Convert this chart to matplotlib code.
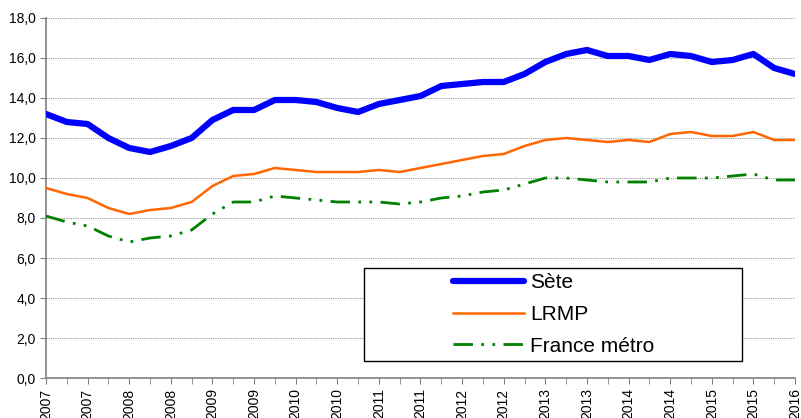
import matplotlib.pyplot as plt
from matplotlib.patches import Rectangle
from matplotlib.ticker import FuncFormatter

plt.rcParams['font.family'] = ['Liberation Sans', 'DejaVu Sans']

# trimestres de 2007 T1 à 2016 T1
annees = [2007, 2007, 2008, 2008, 2009, 2009, 2010, 2010, 2011, 2011,
          2012, 2012, 2013, 2013, 2014, 2014, 2015, 2015, 2016]

sete = [13.2, 12.8, 12.7, 12.0, 11.5, 11.3, 11.6, 12.0, 12.9, 13.4,
        13.4, 13.9, 13.9, 13.8, 13.5, 13.3, 13.7, 13.9, 14.1, 14.6,
        14.7, 14.8, 14.8, 15.2, 15.8, 16.2, 16.4, 16.1, 16.1, 15.9,
        16.2, 16.1, 15.8, 15.9, 16.2, 15.5, 15.2]
lrmp = [9.5, 9.2, 9.0, 8.5, 8.2, 8.4, 8.5, 8.8, 9.6, 10.1,
        10.2, 10.5, 10.4, 10.3, 10.3, 10.3, 10.4, 10.3, 10.5, 10.7,
        10.9, 11.1, 11.2, 11.6, 11.9, 12.0, 11.9, 11.8, 11.9, 11.8,
        12.2, 12.3, 12.1, 12.1, 12.3, 11.9, 11.9]
france = [8.1, 7.8, 7.6, 7.1, 6.8, 7.0, 7.1, 7.4, 8.2, 8.8,
          8.8, 9.1, 9.0, 8.9, 8.8, 8.8, 8.8, 8.7, 8.8, 9.0,
          9.1, 9.3, 9.4, 9.7, 10.0, 10.0, 9.9, 9.8, 9.8, 9.8,
          10.0, 10.0, 10.0, 10.1, 10.2, 9.9, 9.9]

x = list(range(len(sete)))

fig = plt.figure(figsize=(8.01, 4.18), dpi=100)
ax = fig.add_axes([46 / 801, 40 / 418, 749 / 801, 360 / 418])

ax.plot(x, sete, color='#0000FF', lw=4.5, label='Sète', solid_capstyle='round', zorder=3)
ax.plot(x, lrmp, color='#FF6600', lw=1.8, label='LRMP', zorder=3)
ax.plot(x, france, color='#008000', lw=2.0, dashes=(7, 3, 1, 3, 1, 3),
        label='France métro', zorder=3)

ax.set_xlim(0, len(sete) - 1)
ax.set_ylim(0, 18)
ax.set_yticks(range(0, 19, 2))
ax.yaxis.set_major_formatter(FuncFormatter(lambda v, p: f'{v:.1f}'.replace('.', ',')))
ax.yaxis.grid(True, color='#999999', linestyle=(0, (1, 1)), lw=0.8)
ax.set_axisbelow(True)

ax.set_xticks(x[::2])
ax.set_xticklabels([str(a) for a in annees], rotation=90)
ax.set_xticks(x, minor=True)
ax.tick_params(axis='x', which='both', direction='out', length=4, color='#808080', labelsize=10)
ax.tick_params(axis='y', direction='out', length=4, color='#808080', labelsize=10)

for s in ['top', 'right']:
    ax.spines[s].set_visible(False)
for s in ['left', 'bottom']:
    ax.spines[s].set_color('#808080')
    ax.spines[s].set_linewidth(1.2)

# cadre de la légende
cadre = Rectangle((318 / 749, 17 / 360), 378 / 749, 93 / 360, transform=ax.transAxes,
                  facecolor='white', edgecolor='black', lw=1.0, zorder=4)
ax.add_patch(cadre)

leg = ax.legend(loc='center left', bbox_to_anchor=(407 / 749, 63.5 / 360),
                fontsize=15, handlelength=3.4, frameon=False,
                borderpad=0, labelspacing=0.6, handletextpad=0.3, borderaxespad=0)
leg.set_zorder(5)

fig.savefig('out.png', dpi=100)
